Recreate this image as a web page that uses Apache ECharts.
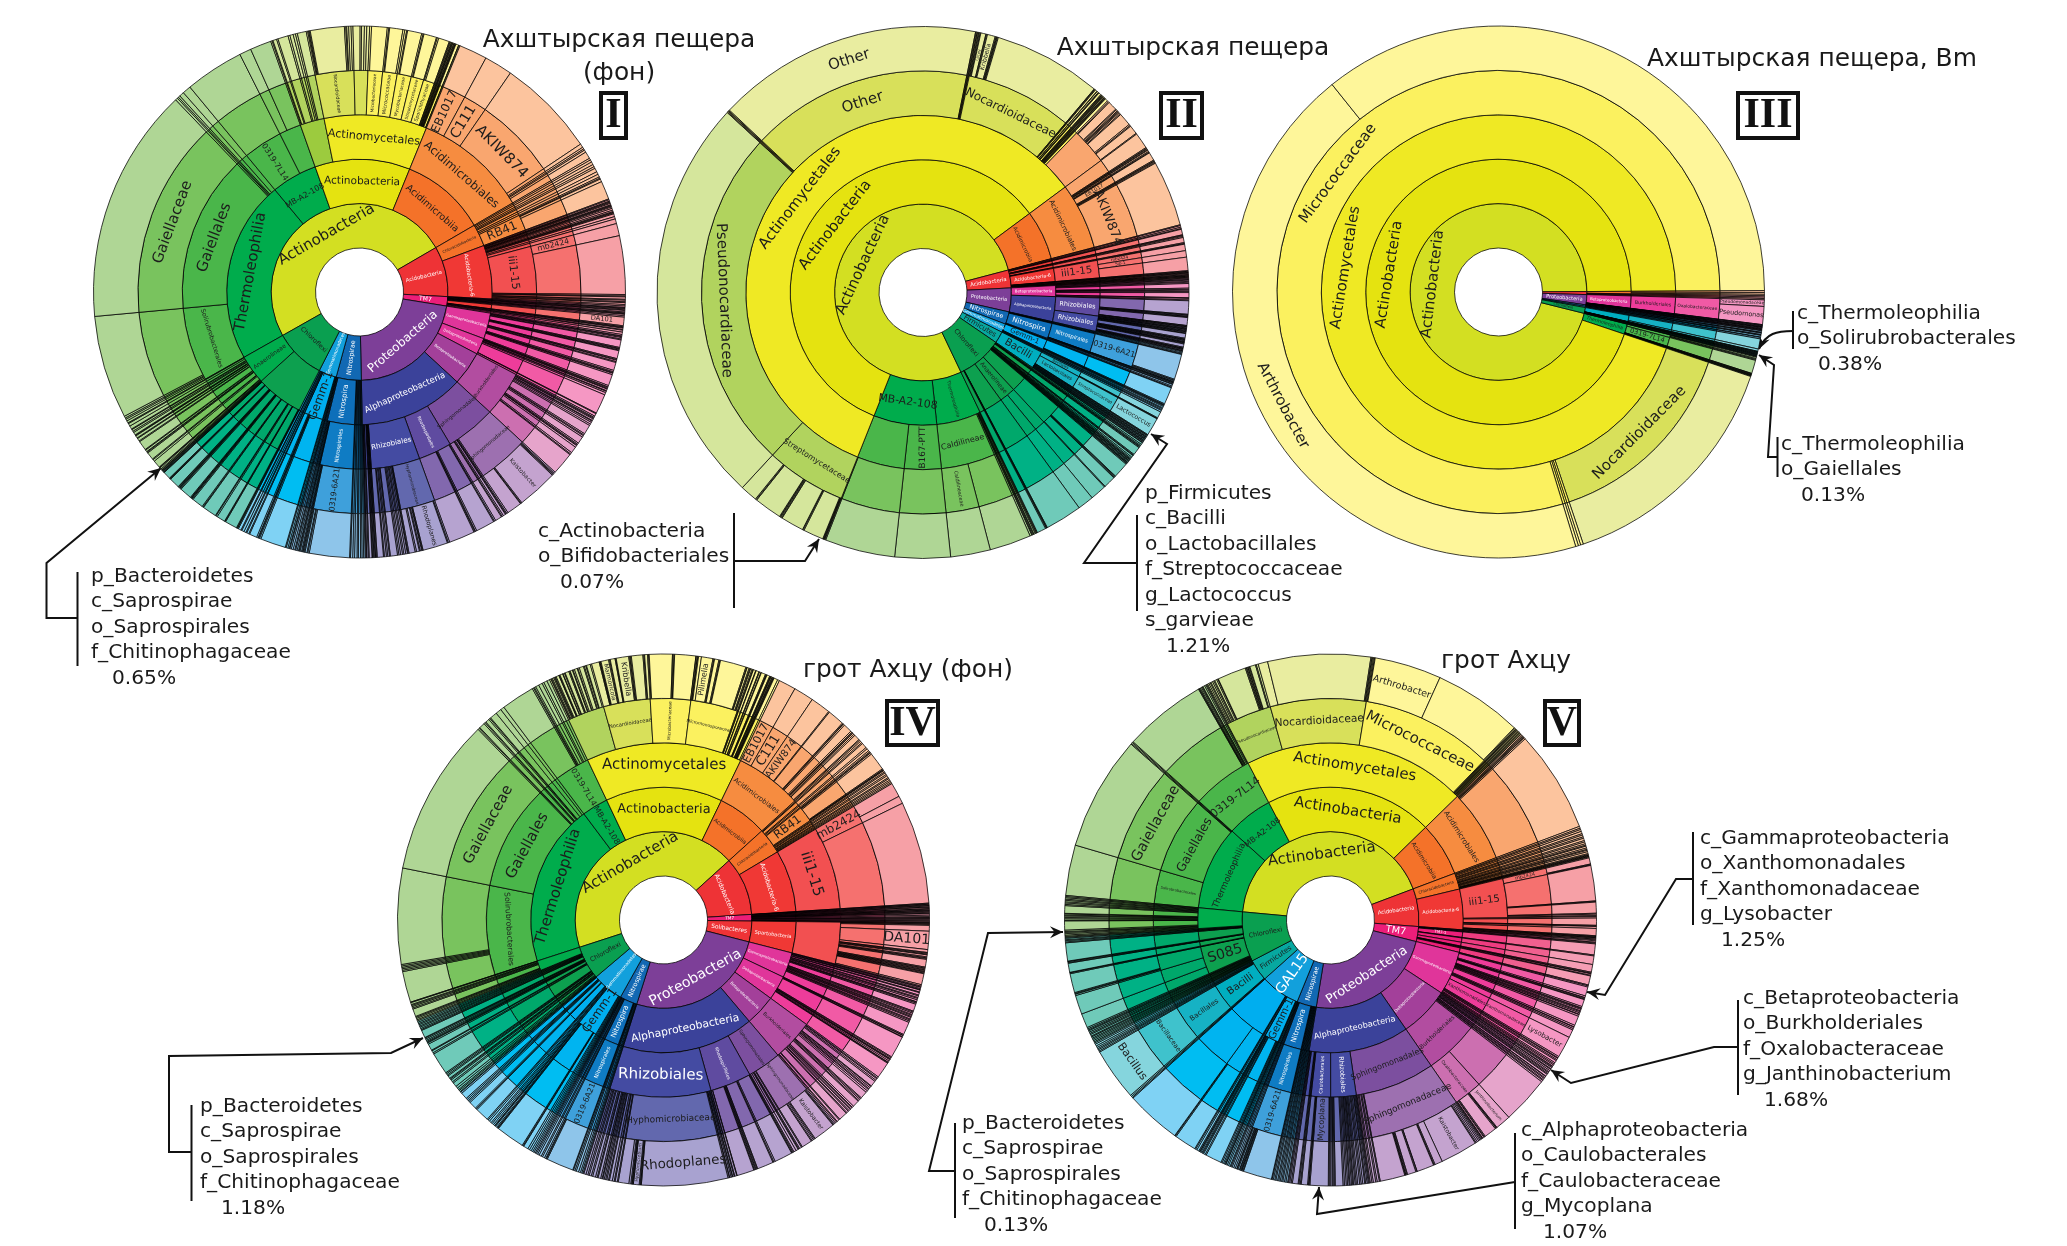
<!DOCTYPE html>
<html><head><meta charset="utf-8">
<style>html,body{margin:0;background:#fff}#c{width:2067px;height:1246px}</style>
<script src="https://cdn.jsdelivr.net/npm/echarts@6/dist/echarts.min.js"></script>
</head><body><div id="c"></div>
<script>
// Tree items: a number = unnamed slice (arc degrees); or [name, colourGroup, number | children].
// A leading ">" in a name skips one ring before the name is placed.
const chartI = [
 ['Actinobacteria','A',[
  ['Thermoleophilia','G',[
   ['Solirubrobacterales','',[.5,.4,.3,.4,21.9]],
   ['Gaiellales','',[['Gaiellaceae','',50]]],
   .5,.3,.4,1,1.8]],
  ['MB-A2-108','G',[['0319-7L14','',12.5],['','',[2.5,4.5]]]],
  ['Actinobacteria','A',[
   ['','K',[.3,.2,.8,.3,2.2,.4,.7,.5,.4,1.9]],
   ['Actinomycetales','A',[
    ['Nocardioidaceae','L',[.3,.2,.15,.2,7.2,.3,.2,.4,.5,.4]],
    ['','L',[1.5,.3,.6,.5,.6]],
    ['Microbacteriaceae','A',[.4,3.3]],
    ['Micrococcaceae','A',[.3,.2,2.8,.4]],
    ['Mycobacteriaceae','A',[.4,.2,3]],
    ['Streptomycetaceae','A',[.3,.2,2.7]],
    ['Sporichthyaceae','A',[.2,.3,2.3]],
    .15,.15,.2,.1,.15,.1,.2,.1,.15,.1,.1,.6,.1,.2]]]],
  ['Acidimicrobiia','O',[['Acidimicrobiales','',[['EB1017','',6],['C111','',6],['AKIW874','',21],.8,.4,.3,.5,1.5]]]]]],
 ['Acidobacteria','R',[
  ['Chloracidobacteria','O',[.4,.5,.6,.5,.4,.8,.6,.6,['RB41','',[.3,.2,.6,3.9]]]],
  ['Acidobacteria-6','R',[.2,.3,.15,.15,.2,.3,.15,.15,.2,.3,.4,.3,.15,.15,.2,.6,.5,1,
   ['iii1-15','',[['mb2424','',2.6],12.4]],.3,.2,.5,.2,.3,.2,.4,.3]]]],
 ['TM7','W',[.3,.15,.15,.2,.15,.3,.2,.15,.15,.3,.3,['>>>DA101','R',1.8],.2,.15,.15,.3,.15,.4,.5]],
 ['Proteobacteria','U',[
  ['Gammaproteobacteria','P',[.3,.15,.2,.3,.2,1.6,.2,.15,.2,.15,1.7,.2,.15,.3,.2,1.7,.3,.2,.15,.3,2.4]],
  ['Deltaproteobacteria','P',[.3,.15,.2,.15,.35,.15,.3,.5,4.2,.15,.55]],
  ['Betaproteobacteria','M',[['Burkholderiales','',[.3,.2,.2,.35,.15,.3,.4,.35,2,.3,.2,.35,1.5,.3,.2,.15,.4,1.4,.35,.2,4.8]]]],
  ['Alphaproteobacteria','I',[
   ['Sphingomonadales','V',[['Sphingomonadaceae','',[.3,.2,.15,.2,['Kaistobacter','',8.6],.2,.15,3.2]],.3,.2,.15,.5,.3,.2,1.4]],
   ['Rhodospirillales','U',[.3,.2,4,.3,.15,.2,5.5]],
   ['Rhizobiales','I',[['Hyphomicrobiaceae','',[.3,.2,['Rhodoplanes','',5.3],.15,.15,.3,.2,.6,.3,1.3]],.2,.15,.35,.4,.3,.4,.35,.3,1.5,.2,.35,.3,.4,.2,1.3]],
   .15,.2,.1,.2,.15,.2,.1,.6,.2,.3,.15,.2]]]],
 ['Nitrospirae','B',[.3,.35,.3,.45,.3,.5,.4,.45,.2,
  ['Nitrospira','',[['Nitrospirales','',[['0319-6A21','',[8.5,.3,.2,.4,.2]],.2,.15,.2,.3]],.2,.15,.3,.3,.2]],.35,.4,.3,.15]],
 ['Gemmatimonadetes','S',[.3,.35,.2,['Gemm-1','',[5.4,.3,.2,.15,.3,1.6]],.2,.45,.2,.45,.5,.2,.6]],
 ['Chloroflexi','C',[
  ['','C',[.2,.1,.15,2.6,.15,.1,1.8,.3,.15,3,.15,.2,2.4,.2,.15,.1,.1,.15,2.6,.2,.15,.1,.1,.15,.1,2.2,.15,.1,.1,1.6,.1,.1,.15,.1,.1]],
  ['Anaerolineae','G',[.15,.1,.2,.3,.15,.1,['>>>Frankia','',1.6],.4,.2,['>>>Pedomicrobium','',1.6],.2,.15,.4,.15,['>>>Pseudonocardia','',2],.2,.6,.15,.5,.15,.1,.6,.3,.4,.15,.7,.6,.15]]]]
];
const chartII = [
 ['Actinobacteria','A',[
  ['Thermoleophilia','G',[.2,.15,.2,.3,.15,.2,.15,.4,['Caldilineae','',[['','',9],['Caldilineaceae','',8.6]]]]],
  ['MB-A2-108','G',[['B167-PTT','',12],['','',[15.2,.2]]]],
  ['Actinobacteria','A',[['Actinomycetales','A',[
   ['Streptomycetaceae','K',[.12,.12,.12,.12,4.4,.2,.15,5,.15,.2,.15,.15,6,.15,.2,3.7]],
   ['Pseudonocardiaceae','K',89],.15,.2,.15,.2,
   ['Other','L',[['Other','',57.6]]],.15,.2,.1,.2,
   ['Nocardioidaceae','L',[.15,.2,.15,['Lacey','',1.1],.15,.2,['Kribbella','',1.7],.2,.15,.15,.2,23.4]],
   .1,.1,.15,.4,.1,.3,.1,.1,.5,.15,.1,.1,.15,.1,.1,.2,.1,.1,.15,.1,.6,
   ['','O',[.3,.2,2,.2,.3,.2,.15,.2,.3,.2,2.8,.3,.2,1.9,.2]]]]]],
  ['Acidimicrobiia','O',[['Acidimicrobiales','',[3.5,.2,.15,.2,.15,.3,.2,.15,['EB1017','',1.8],.2,.15,.2,.2,['AKIW874','',14.2]]]]]]],
 ['Acidobacteria','R',[.2,.35,.3,.15,1.2,.15,.2,.25,1.1,.2,.15,['Acidobacteria-6','R',[['iii1-15','',[['mb2424','',1.4],['Sip-1','',1.4],2.9]]]],.15,.1,.15,.1,.15,.2,.1,.15,.1,.1,.15,.1,.15]],
 ['Proteobacteria','U',[
  ['Betaproteobacteria','P',[.2,.15,.25,.2,.25,1,.25,.2,.25,.25,1.1,.15,.3,.2]],
  ['Alphaproteobacteria','I',[['Rhizobiales','U',[2.9,.15,.1,.2,.1,.15,1.7,.1,.15,.1,.2]],['Rhizobiales','I',[.1,.15,.1,.2,.1,.15,.1,.2,.1,1,.2,.1,.15,.1,.2,.1,.15,.1,.15,.7,.2,.1,.15,.1,.2,.1]]]]]],
 ['Nitrospirae','B',[.2,.25,.2,.1,['Nitrospira','',[['Nitrospirales','',[['0319-6A21','',[5.5,.2,.15,.2]]]],.1,.15,.1,.2,.1]],.35,.25,.15]],
 ['Gemmatimonadetes','S',[['Gemm-1','',[3.7,.2,.15,.1,.2]],.3,.2,.25,.2,.35]],
 ['Firmicutes','T',[['Bacilli','',[['Bacillales','',[1.4,.15,.1]],['Lactobacillales','',[['Streptococcaceae','',[['Lactococcus','',3.9]]]]],.15,.1,.2,.15,.1,.2,.1,.15,.1,.2,.1,.15,.1,.2,.1]]]],
 ['Chloroflexi','C',[.4,.3,.2,.15,.2,1.8,.2,.15,.4,.3,.2,.15,.1,.2,.1,.15,.2,.1,.15,.1,.2,['>','',[3.4,.15,.2,.15,2.6,.2]],['Anaerolineae','',[['','',3.5],['','',3.5]]],8,.15,.1,.2,1.9]]
];
const chartIII = [
 ['Actinobacteria','A',[
  ['Thermoleophilia','G',[['Solirubrobacterales','',[.2,.3,.2,.2]],['0319-7L14','',2.9],.1,.1,.1,.1,.1,.1,.1]],
  ['Actinobacteria','A',[['Actinomycetales','A',[
    ['Nocardioidaceae','L',52.5],.6,.5,.6,
    ['Micrococcaceae','A',[['Arthrobacter','',157],127.5]]]]]]]],
 ['Acidobacteria','R',[['','O',[.4,.4,.3]],.3,.3,.3]],
 ['Proteobacteria','U',[
  ['Betaproteobacteria','P',[['Burkholderiales','',[['Oxalobacteraceae','',[['Pseudomonadaceae','',1.4],['Pseudomonas','',3.9]]]]]]],
  .1,.1,.1,.15,.1,.1,.1,.15,.1,.1,.1,.15]],
 ['Nitrospirae','B',[.3,.1,.1,.3,.1,.1]],
 ['Gemmatimonadetes','S',[.35,.1,.3]],
 ['Chloroflexi','C',[['','T',[2.2,.5]],.1,.1,.1,.15,.1,.1,.1,.1,.15,.1]]
];
const chartIV = [
 ['Actinobacteria','A',[
  ['Thermoleophilia','G',[
   ['Solirubrobacterales','',[6.5,.3,.3,.3,.3,.3,20]],
   ['Gaiellales','',[['Gaiellaceae','',33]]],
   .3,.2,['>>>Ruminofilibacter','',1.2],.3,.2,.8,.3,.2,1.5,1.2,.8]],
  ['MB-A2-108','G',[['0319-7L14','',[['','',7],.3,.2,.3,.7,.8,.4,.7,.6]]]],
  ['Actinobacteria','A',[['Actinomycetales','A',[
   ['','K',[.3,.15,.2,.3,.2,.15,.2,.6,.1,.15,.6,.1,.3,.15,.8,.2,.1,.5,.15,.3,.6,.15,.3,.9,.2,.3,.15,.8,.3]],
   ['Nocardioidaceae','L',[1.6,.15,.1,.15,['Marmoricola','',1.6],.2,.15,1,.15,.1,['Kribbella','',2.6],.2,.15,.2,2.4,.2,.15,.6]],
   ['Microbacteriaceae','A',[.2,.15,4.8,.15,.2,.1,4.4,.1]],
   ['Micromonosporaceae','A',[.2,.1,.15,.6,['Pilimelia','',2.4],.2,.15,.9,.2,.15,['','',5.4],.2,.1,.4,.2,.15,.3]],
   .2,.1,.5,.1,.6,.15,.3,.1,.9,.15,.1,.1,.6,.15,.1,.1,.2,.1,.15,.1,.1,.8,.4]]]],
  ['Acidimicrobiia','O',[['Acidimicrobiales','',[['EB1017','',3.6],['C111','',4.2],['AKIW874','',4.2],.2,3.5,.2,.1,.3,1.8,.3,.2,.1,.3,.3,1.2,.2,.3]]]]]],
 ['Acidobacteria','R',[
  ['Chloracidobacteria','O',[.35,.25,1.1,.35,.5,.3,['RB41','',[.2,.1,.3,3.8,.2,.1,.15]],.3,.25,.4,.3,.45,.25,.35,.3,.3,.25]],
  ['Acidobacteria-6','R',[['iii1-15','',[['mb2424','',[3,1.6]],21.4]]]]]],
 ['TM7','W',[.15,.1,.1,.15,.1,.2,.1,.25,.1,.2,.1,.1,.15,.1,.2,.1,.3,.3,.2,.1,.1,.2,.25,.1,.2,.1,.1]],
 ['Solibacteres','R',[['Spartobacteria','',[['','',[.15,.1,.2,1.2,['>DA101','',3.8],.6,.15,.2,.15,.4,.2,.15,.2,1.6,.2,.15,.2,.15,.2,.15,.2,.15,2.3,.3]]]]]],
 ['Proteobacteria','U',[
  ['Gammaproteobacteria','P',[.2,.1,.25,.2,.1,.4,.15,.5,.2,.35,.2,.3,.4,.1,.2,.25,1.5,.2,.25,.3,.2,.25,.2,.35,.2,.25,.3,2.7]],
  ['Deltaproteobacteria','P',[.2,.1,.25,.1,4.6,.2,.25,.1,.15,.3,.3,.1,.15,3.4]],
  ['Betaproteobacteria','M',[['Burkholderiales','',[.3,.2,.35,.3,1.2,.15,.3,.3,.2,.35,.4,1.5,.2,.25,.3,.2,1.4,.35,.1,.3,.2,.35,.2,.4,.2,1.8,.2,.5,.2,.3]]]],
  ['Alphaproteobacteria','I',[
   ['Sphingomonadales','V',[['Sphingomonadaceae','',[.3,.2,.15,['Kaistobacter','',4.6],.2,.25,.3,.2,2.2]],.2,.45,.2,.15,.5,.5,.2]],
   ['Rhodospirillales','U',[.2,.15,3.8,.3,.2,3.4,.15,.2,.15,.2,.15,3.6,.1,.4]],
   ['Rhizobiales','I',[.15,.3,.1,.25,.3,.1,.25,
    ['Hyphomicrobiaceae','',[['Rhodoplanes','',18],.15,.1,.2,['Hyphomicrobium','',1.2],.1,.15,.1,.2,.4,2.2]],
    .2,.45,.2,.4,.6,.2,.35,.25,.3,.3,.15,.3,.55,.2,.35,.6,.3,.45,.3,.4,.45,.2]]]]]],
 ['Nitrospirae','B',[.25,.3,.4,.5,.3,.3,.15,['Nitrospira','',[['Nitrospirales','',[['0319-6A21','',[5.7,.2,.15]]]]]],.3,.45,.3,.5,.35,.3,.25,.3]],
 ['Gemmatimonadetes','S',[.3,.35,.4,.4,['Gemm-1','',[1,.15,.2,6,.15,.1,.2,.3,.15,.1]],.3,.35,.3,.45,.35,.25,2.9,.2,.25,1.6,.3,.25,.3,.3,1.4,.3,.15]],
 ['Chloroflexi','C',[.3,.25,.4,.45,.9,.3,.45,.25,.2,.6,.25,.3,.25,4.6,.3,.45,.15,1.4,.3,.15,.2,.25,.3,.25,.1,1.6,.2,.25,.3,.25,.3,.25,.3,.3,['','G',[.25,.3,.25,.2,1.6,.25,.3,.25,.2,.4,.1]]]]
];
const chartV = [
 ['Actinobacteria','A',[
  ['Thermoleophilia','G',[
   ['Solirubrobacterales','',[['','',[10.6]]]],
   ['Gaiellales','',[['Gaiellaceae','',[24]]]],.2,.25,.2]],
  ['MB-A2-108','G',[['0319-7L14','',[['','',[17.4]],.15,.1,.2,.25,.2,.15,.4,.3,.2]]]],
  ['Actinobacteria','A',[['Actinomycetales','A',[
   ['Pseudonocardiaceae','K',[.2,.3,.3,.2,.35,.3,.2,.45,.25,.1,['','',6],.2,.15,.2,.1,.2,.15,1.2,.2,.4]],
   ['Nocardioidaceae','L',[2,21.5,.2,.15,.2]],
   ['Micrococcaceae','A',[.2,.15,['Arthrobacter','',14],18.6,.2]],
   .2,.1,.15,.1,.2,.15,.1,.2,.1,.15,.2,.1]]]],
  ['Acidimicrobiia','O',[['Acidimicrobiales','',[.3,.2,.15,.2,.1,.3,21.4]]]]]],
 ['Acidobacteria','R',[
  ['Chloracidobacteria','O',[.4,.3,.4,.5,.3,.4,.3,.5,.3,.4,.3,.2,.4,.3,.2,.3,.4,.2,.15,.1,.15,.1,.2]],
  ['Acidobacteria-6','R',[['iii1-15','',[['mb2424','',[1.3,.15,.15]],7.4,.15,.1,2.3,.2,.3,.2]],.3,1.5,.15,.1,.4,1.5,.15,.1,.15,.1,.2,.15]]]],
 ['TM7','W',[.2,.3,.15,.2,['TM7-1','',2.3],.2,['','',1.8],['SC','',1.6],.2,.15,.3,.15,1.9]],
 ['Proteobacteria','U',[
  ['Gammaproteobacteria','P',[.2,.25,1.9,.35,.1,.2,.15,1.5,.3,.15,.2,.3,.2,.25,.3,.1,.35,2,.35,.1,.3,.3,1.7,['Xanthomonadales','',[['Xanthomonadaceae','',[['Lysobacter','',4.5]]]]],.3,.15,.3,.25,.5,.3,.25,.3]],
  ['Deltaproteobacteria','M',[.15,.2,.3,.15,.3,.3,.2,.25,.2,.45,.1,.3,.2,.3,.2,.35,
   ['Burkholderiales','',[['','',[10]],['Oxalobacteraceae','',[['Janthinobacterium','',3.2],.15,.1,.2,2.6,.2,.15,.3,.1,.15]]]]]],
  ['Alphaproteobacteria','I',[
   ['Sphingomonadales','V',[['Sphingomonadaceae','',[.2,.25,.3,.35,.3,.2,['Kaistobacter','',7.8],1.6,.2,.15,3.6,.1,.2,1.8,.15,.2,.1,.15,5.2]],.2,.45,.3,.5,.3,.35,.2]],
   ['Rhizobiales','I',[.2,.25,.3,.2,.4,.35,.3,.4,.3,.25,.3,.2,.25,.3,.2,.3,.3,.35,.3,1.6,.2,.25,.2,.3]],
   ['Caulobacterales','I',[.3,.2,['Mycoplana','',3.8],.2,.1,.2,1.3]],
   .2,.25,.2,1.2,.25,.3,.25,.2]]]],
 ['Nitrospirae','B',[.35,.3,.35,.25,.3,.3,.25,.35,.25,.3,.25,.15,['Nitrospira','',[['Nitrospirales','',[['0319-6A21','',[6,.15,.2,.1,.15,.2,.1,.3,.2,.1]]]]]],.3,.35,.35,.25,.2]],
 ['GAL15','S',[.35,.3,.3,.1,['Gemm-1','',[.2,.25,.3,.25,3.4,.25,.35,.2,.2,.25,.2,.1]],.2,.45,.3,.2,
   ['','',[['','',[4.6,.2,.15]],['','',[11.6]]]],.2]],
 ['Firmicutes','T',[.25,.3,['Bacilli','',[['Bacillales','',[['Bacillaceae','',[['Bacillus','',[11]]]]]]]],.25,.3,.25,.3,.35,.4,.3]],
 ['Chloroflexi','C',[.25,.3,.3,.25,.3,.2,.35,.25,.3,.3,.2,.25,.3,
   ['S085','',[['','',[3]],['','',[4]],['','',[.3,.15,.2,4]]]],.2,.1,1.9,.15,.2,.1,3.8,.2,.25,.2,.3,.2,
   ['','G',[.2,.25,.3,.25,.2,.3,1.9,.15,.3,.25,.3,.2,.25,.1,1.6,.25,.3,.25,.3,.25,.3,.25,.2]]]]
];
const palette = {
 A:['#d3df22','#e5e310','#efe924','#fbf15f','#fef69a'],
 L:['#d3df22','#cfd936','#c9dc3f','#d8e05a','#e9eda0'],
 K:['#b8d433','#a9d041','#9ccb3e','#b1d35e','#d5e69c'],
 G:['#0a9f50','#00ac4c','#4ab64a','#79c35e','#afd695'],
 C:['#0a9f50','#0da04f','#00a86b','#00b185','#6fcab9'],
 T:['#07a8a0','#00aec0','#16b2c4','#3fc2cc','#85d5dd'],
 S:['#12a0dc','#00aeef','#00b4f0','#00bdf2','#7fd2f4'],
 B:['#1268b3','#0e6fba','#0f7cc4','#3ea0db','#8ec5ea'],
 I:['#7d3f98','#3b429a','#444ba2','#6268ae','#a8a2d0'],
 U:['#7d3f98','#4f479c','#5f4ba0','#8268ae','#b6a3d0'],
 V:['#7d3f98','#7140a0','#7c4f9f','#9d70b0','#c4a3cf'],
 M:['#a33f97','#a3409a','#b24da0','#cc6fb0','#e6a4cb'],
 P:['#e0248f','#e0359a','#ee3c9a','#f15aa5','#f597c3'],
 W:['#ec1e79','#ed1e79','#ee3c80','#f0608f','#f59db4'],
 R:['#ee3336','#f03835','#f25051','#f5716f','#f6a0a6'],
 O:['#f47229','#f47229','#f68c40','#f9a66f','#fcc49e']
};
const whiteRings = {A:0,L:0,K:0,G:0,C:0,T:0,S:1,B:3,I:3,U:3,V:2,M:2,P:2,W:2,R:2,O:0};
const charts = [
 {tree:chartI,  center:[359.5,292], start:209.5},
 {tree:chartII, center:[923,292.5], start:295.5},
 {tree:chartIII,center:[1498.5,292],start:346},
 {tree:chartIV, center:[663.5,920], start:198},
 {tree:chartV,  center:[1330.5,920],start:174.7}
];
const R0=44, R1=266, RINGS=5, RW=(R1-R0)/RINGS;
function total(item){ if(typeof item==='number')return item; const p=item[2]; return typeof p==='number'?p:p.reduce((s,c)=>s+total(c),0); }
function build(item,depth,group,scale){
 if(typeof item==='number') item=['','',item];
 let [raw,g,payload]=item; group=g||group;
 if(raw[0]==='>') { payload=[[raw.slice(1),group,payload]]; raw=''; }
 const value=total([raw,g,payload]);
 const node={name:raw,value,itemStyle:{color:palette[group][depth-1]}};
 if(typeof payload==='number'){ if(depth<RINGS) node.children=[build(payload,depth+1,group,scale)]; }
 else if(depth<RINGS) node.children=payload.map(c=>build(c,depth+1,group,scale));
 const r=R0+(depth-.5)*RW, arc=value*scale*Math.PI/180*r, n=Math.max(raw.length,1);
 const tf=Math.min(15,arc*1.1/(.6*n),RW*.5), rf=Math.min(14,(RW-2)/(.6*n),arc*.85);
 const tang=tf>=rf, size=Math.max(tf,rf);
 node.label={show:raw!==''&&size>=3,rotate:tang?'tangential':'radial',fontSize:+size.toFixed(1),
   color:depth<=whiteRings[group]?'#fff':'#1c1c1c',fontFamily:'DejaVu Sans'};
 return node;
}
const series=charts.map(c=>{
 const sum=c.tree.reduce((s,t)=>s+total(t),0), scale=360/sum;
 return {type:'sunburst',center:c.center,radius:[R0,R1],startAngle:c.start,clockwise:true,sort:null,
  nodeClick:false,silent:true,animation:false,emphasis:{focus:'none'},
  itemStyle:{borderColor:'#000',borderWidth:.75},
  label:{position:'inside',align:'center'},
  data:c.tree.map(t=>build(t,1,'A',scale))};
});
const TF='"DejaVu Sans"';
const titles=[
 ['Ахштырская пещера',619,40.5],['(фон)',619,73.5],['Ахштырская пещера',1193,48.5],
 ['Ахштырская пещера, Bm',1812,59.5],['грот Ахцу (фон)',908,670.5],['грот Ахцу',1506,661.5]];
const numerals=[['I',599,91,628,140],['II',1159,91,1204,140],['III',1736,91,1800,140],['IV',885,699,940,747],['V',1543,699,1581,747]];
const notes=[
 [91,576.5,['p_Bacteroidetes','c_Saprospirae','o_Saprospirales','f_Chitinophagaceae'],112,'0.65%'],
 [538,531.5,['c_Actinobacteria','o_Bifidobacteriales'],560,'0.07%'],
 [1145,493.5,['p_Firmicutes','c_Bacilli','o_Lactobacillales','f_Streptococcaceae','g_Lactococcus','s_garvieae'],1166,'1.21%'],
 [1797,313.5,['c_Thermoleophilia','o_Solirubrobacterales'],1818,'0.38%'],
 [1781,444.5,['c_Thermoleophilia','o_Gaiellales'],1801,'0.13%'],
 [200,1106.5,['p_Bacteroidetes','c_Saprospirae','o_Saprospirales','f_Chitinophagaceae'],221,'1.18%'],
 [962,1123.5,['p_Bacteroidetes','c_Saprospirae','o_Saprospirales','f_Chitinophagaceae'],984,'0.13%'],
 [1700,838.5,['c_Gammaproteobacteria','o_Xanthomonadales','f_Xanthomonadaceae','g_Lysobacter'],1721,'1.25%'],
 [1743,998.5,['c_Betaproteobacteria','o_Burkholderiales','f_Oxalobacteraceae','g_Janthinobacterium'],1764,'1.68%'],
 [1521,1130.5,['c_Alphaproteobacteria','o_Caulobacterales','f_Caulobacteraceae','g_Mycoplana'],1543,'1.07%']];
const leaders=[
 {bar:[77.5,572,666],path:[[77.5,618],[46.5,618],[46.5,563],[161,468]]},
 {bar:[734,513,608],path:[[734,561],[805,561],[819,539]]},
 {bar:[1137,515,611],path:[[1137,563],[1084,563],[1167,444],[1151,434]]},
 {bar:[1793,311,349],curve:[[1793,331],[1777,331],[1766,333],[1759,349]]},
 {bar:[1777.5,437,477],path:[[1777,457],[1768,457],[1774,365],[1759,355]]},
 {bar:[191.5,1105,1201],path:[[191.5,1152],[169,1152],[169,1056],[391,1053],[423,1038]]},
 {bar:[955,1123,1218],path:[[955,1171],[929,1171],[988,933],[1063,932]]},
 {bar:[1693,832,925],path:[[1693,879],[1676,879],[1605,995],[1587,992]]},
 {bar:[1738,1000,1095],path:[[1738,1047],[1714,1047],[1571,1083],[1551,1070]]},
 {bar:[1515,1133,1229],path:[[1515,1182],[1317,1214],[1319,1187]]}];
const g=[];
const line=(pts,w)=>g.push({type:'polyline',shape:{points:pts},style:{stroke:'#111',lineWidth:w||2,fill:'none'},silent:true});
function head(a,b){ const t=Math.atan2(b[1]-a[1],b[0]-a[0]),L=13,W=6,c=Math.cos(t),s=Math.sin(t);
 g.push({type:'polygon',shape:{points:[b,[b[0]-L*c-W*s,b[1]-L*s+W*c],[b[0]-.65*L*c,b[1]-.65*L*s],[b[0]-L*c+W*s,b[1]-L*s-W*c]]},style:{fill:'#111'},silent:true}); }
titles.forEach(t=>g.push({type:'text',silent:true,style:{text:t[0],x:t[1],y:t[2],align:'center',verticalAlign:'middle',font:'24.9px '+TF,fill:'#1a1a1a'}}));
numerals.forEach(n=>{ g.push({type:'rect',silent:true,shape:{x:n[1]+2,y:n[2]+2,width:n[3]-n[1]-4,height:n[4]-n[2]-4},style:{fill:'#fff',stroke:'#111',lineWidth:4}});
 g.push({type:'text',silent:true,style:{text:n[0],x:(n[1]+n[3])/2,y:(n[2]+n[4])/2+1,align:'center',verticalAlign:'middle',font:'bold 42px "Liberation Serif"',fill:'#111'}}); });
notes.forEach(n=>{ n[2].forEach((s,i)=>g.push({type:'text',silent:true,style:{text:s,x:n[0],y:n[1]+i*25.5,align:'left',verticalAlign:'middle',font:'20.2px '+TF,fill:'#1a1a1a'}}));
 g.push({type:'text',silent:true,style:{text:n[4],x:n[3],y:n[1]+n[2].length*25.5,align:'left',verticalAlign:'middle',font:'20.2px '+TF,fill:'#1a1a1a'}}); });
leaders.forEach(l=>{ line([[l.bar[0],l.bar[1]],[l.bar[0],l.bar[2]]]);
 if(l.path){ line(l.path); const p=l.path; head(p[p.length-2],p[p.length-1]); }
 else { const c=l.curve; g.push({type:'bezierCurve',silent:true,shape:{x1:c[0][0],y1:c[0][1],cpx1:c[1][0],cpy1:c[1][1],cpx2:c[2][0],cpy2:c[2][1],x2:c[3][0],y2:c[3][1]},style:{stroke:'#111',lineWidth:2,fill:'none'}}); head(c[2],c[3]); }});
const chart=echarts.init(document.getElementById('c'),null,{renderer:'canvas'});
chart.setOption({animation:false,backgroundColor:'#fff',series,graphic:{elements:g}});
</script></body></html>
